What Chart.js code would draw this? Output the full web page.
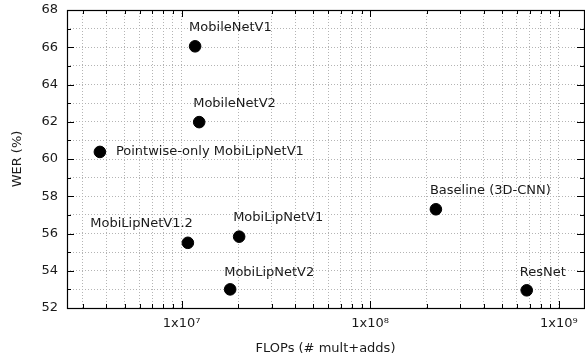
<!DOCTYPE html>
<html>
<head>
<meta charset="utf-8">
<script src="https://cdn.jsdelivr.net/npm/chart.js@4"></script>
<style>
  html, body { margin: 0; padding: 0; background: #fff; }
  #wrap { width: 585px; height: 356px; }
</style>
</head>
<body>
<div id="wrap"><canvas id="chart" width="585" height="356"></canvas></div>
<script>
// models and their cost / error
const models = ['MobileNetV1', 'MobileNetV2', 'Pointwise-only MobiLipNetV1', 'Baseline (3D-CNN)',
                'MobiLipNetV1', 'MobiLipNetV1.2', 'MobiLipNetV2', 'ResNet'];
const flops = [1.18e7, 1.24e7, 3.69e6, 2.23e8, 2.02e7, 1.08e7, 1.81e7, 6.76e8];
const wer = [66.05, 61.98, 60.38, 57.3, 55.83, 55.5, 53.0, 52.95];

// axis ticks
const xTicks = [3e6, 4e6, 5e6, 6e6, 7e6, 8e6, 9e6,
                1e7, 2e7, 3e7, 4e7, 5e7, 6e7, 7e7, 8e7, 9e7,
                1e8, 2e8, 3e8, 4e8, 5e8, 6e8, 7e8, 8e8, 9e8, 1e9];
const xLabels = { 1e7: '1x10\u2077', 1e8: '1x10\u2078', 1e9: '1x10\u2079' };
const yMin = 52, yMax = 68;

// label placement next to each point: [dx, dy, align]
const labelPos = [[-6, -19, 'left'], [-6, -18, 'left'], [16, 0, 'left'], [-6, -19, 'left'],
                  [-6, -19, 'left'], [5, -19, 'right'], [-6, -17, 'left'], [-7, -18, 'left']];

const FONT = 'DejaVu Sans';
const textColor = '#1a1a1a';

const framePlugin = {
  id: 'frame',
  afterDatasetsDraw(chart) {
    const ctx = chart.ctx;
    const a = chart.chartArea;
    const xs = chart.scales.x, ys = chart.scales.y;
    ctx.save();
    ctx.strokeStyle = '#000';
    ctx.lineWidth = 1;
    ctx.beginPath();
    // inward ticks on x (bottom and top)
    xTicks.forEach(v => {
      const px = Math.round(xs.getPixelForValue(v)) + 0.5;
      const len = xLabels[v] ? 7 : 4;
      ctx.moveTo(px, a.bottom); ctx.lineTo(px, a.bottom - len);
      ctx.moveTo(px, a.top); ctx.lineTo(px, a.top + len);
    });
    // inward ticks on y (left and right)
    for (let v = yMin; v <= yMax; v++) {
      const py = Math.round(ys.getPixelForValue(v)) + 0.5;
      const len = v % 2 === 0 ? 7 : 4;
      ctx.moveTo(a.left, py); ctx.lineTo(a.left + len, py);
      ctx.moveTo(a.right, py); ctx.lineTo(a.right - len, py);
    }
    ctx.stroke();
    ctx.lineWidth = 1.2;
    ctx.strokeRect(Math.round(a.left) + 0.5, Math.round(a.top) + 0.5,
                   Math.round(a.right - a.left), Math.round(a.bottom - a.top));

    // point labels
    ctx.fillStyle = textColor;
    ctx.font = '13px "' + FONT + '"';
    ctx.textBaseline = 'middle';
    const meta = chart.getDatasetMeta(0);
    meta.data.forEach((pt, i) => {
      const [dx, dy, align] = labelPos[i];
      ctx.textAlign = align;
      ctx.fillText(models[i], pt.x + dx, pt.y + dy);
    });
    ctx.restore();
  }
};

new Chart(document.getElementById('chart'), {
  type: 'scatter',
  data: {
    datasets: [{
      data: flops.map((f, i) => ({ x: f, y: wer[i] })),
      backgroundColor: '#000',
      borderColor: '#000',
      pointRadius: 5.8,
      pointHoverRadius: 5.8
    }]
  },
  options: {
    responsive: false,
    animation: false,
    layout: { autoPadding: false, padding: { left: 0, right: 1, top: 10, bottom: 0 } },
    plugins: { legend: { display: false }, tooltip: { enabled: false } },
    scales: {
      x: {
        type: 'logarithmic',
        min: 2.47e6,
        max: 1.36e9,
        afterBuildTicks: s => { s.ticks = xTicks.map(v => ({ value: v, major: !!xLabels[v] })); },
        afterFit: s => { s.height = 48; s.paddingLeft = 0; s.paddingRight = 0; },
        grid: { color: '#b4b4b4', lineWidth: 1, drawTicks: false },
        border: { display: false, dash: [1, 2] },
        ticks: {
          autoSkip: false, maxRotation: 0, padding: 8,
          color: textColor, font: { family: FONT, size: 13 },
          callback: v => xLabels[v] || ''
        },
        title: {
          display: true, text: 'FLOPs (# mult+adds)', color: textColor,
          font: { family: FONT, size: 13 }, padding: { top: 4, bottom: 0 }
        }
      },
      y: {
        min: yMin,
        max: yMax,
        afterFit: s => { s.width = 67; s.paddingTop = 0; s.paddingBottom = 0; },
        grid: { color: '#b4b4b4', lineWidth: 1, drawTicks: false },
        border: { display: false, dash: [1, 2] },
        ticks: {
          stepSize: 1, autoSkip: false, padding: 9,
          color: textColor, font: { family: FONT, size: 13 },
          callback: v => (v % 2 === 0 ? String(v) : '')
        },
        title: {
          display: true, text: 'WER (%)', color: textColor,
          font: { family: FONT, size: 13 }, padding: { top: 10, bottom: 0 }
        }
      }
    }
  },
  plugins: [framePlugin]
});
</script>
</body>
</html>
